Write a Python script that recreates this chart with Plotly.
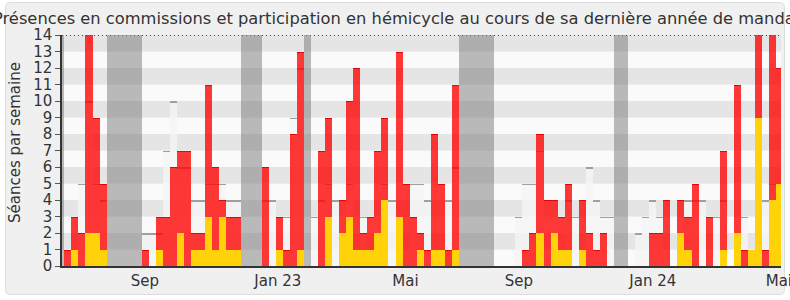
import plotly.graph_objects as go

# ---- data (one value per week) ----
seances_total = [1, 3, 2, 14, 9, 5, 0, 0, 0, 0, 0, 1, 0, 3, 3, 6, 7, 7, 2, 2,
                 11, 6, 4, 3, 3, 0, 0, 0, 6, 0, 3, 1, 8, 13, 0, 0, 7, 9, 0, 4,
                 10, 12, 2, 3, 7, 9, 0, 13, 5, 3, 2, 1, 8, 5, 1, 11, 0, 0, 0, 0,
                 0, 0, 0, 0, 0, 1, 2, 8, 4, 4, 3, 5, 0, 4, 2, 1, 2, 0, 0, 0,
                 0, 0, 0, 2, 2, 4, 0, 4, 3, 5, 0, 3, 0, 7, 0, 11, 1, 1, 14, 1,
                 14, 12]
seances_commission = [0, 1, 0, 2, 2, 1, 0, 0, 0, 0, 0, 0, 0, 1, 0, 0, 2, 0, 1, 1,
                      3, 1, 3, 1, 1, 0, 0, 0, 0, 0, 1, 0, 0, 1, 0, 0, 0, 3, 0, 2,
                      3, 1, 1, 1, 2, 4, 0, 3, 0, 0, 1, 0, 1, 1, 0, 1, 0, 0, 0, 0,
                      0, 0, 0, 0, 0, 0, 0, 2, 0, 2, 1, 1, 0, 1, 0, 0, 0, 0, 0, 0,
                      0, 0, 0, 0, 0, 0, 0, 2, 1, 0, 0, 0, 0, 1, 0, 2, 0, 1, 9, 0,
                      4, 5]
mediane = [0, 0, 5, 10, 5, 4, 0, 0, 0, 0, 0, 2, 2, 2, 7, 10, 6, 6, 4, 4,
           5, 5, 5, 4, 4, 0, 0, 0, 4, 4, 3, 3, 9, 12, 0, 3, 4, 5, 4, 0,
           5, 0, 3, 0, 2, 5, 4, 0, 0, 5, 5, 4, 0, 0, 4, 6, 0, 0, 0, 0,
           0, 0, 0, 0, 3, 5, 5, 7, 0, 0, 0, 4, 3, 0, 6, 4, 3, 3, 0, 0,
           0, 2, 3, 4, 3, 0, 0, 0, 4, 4, 4, 0, 3, 4, 0, 0, 3, 0, 0, 4,
           5, 0]
vacances = [-1, 6, 7, 8, 9, 10, 25, 26, 27, 34, 56, 57, 58, 59, 60, 78, 79]
tick_pos = [11.42, 30.3, 48.4, 64.5, 83.5, 101.4]
tick_text = ["Sep", "Jan 23", "Mai", "Sep", "Jan 24", "Mai"]
y_max = 14

weeks = list(range(len(seances_total)))
xc = [w + 0.5 for w in weeks]

# plot area in pixels
W, H = 790, 300
L, R, T, B = 62, 781, 35, 266
pw, ph = R - L, B - T

def px(x):
    return (x - L) / pw

def py(y):
    return (B - y) / ph

FONT = "DejaVu Sans"
fig = go.Figure()

# vacation columns
fig.add_trace(go.Bar(x=[v + 0.5 for v in vacances], y=[y_max] * len(vacances), width=1,
                     marker=dict(color="rgba(120,120,120,0.5)", line=dict(width=0)),
                     hoverinfo="skip", showlegend=False))
# median (light) bars
fig.add_trace(go.Bar(x=xc, y=mediane, width=1,
                     marker=dict(color="rgba(245,245,245,0.8)", line=dict(width=0)),
                     hoverinfo="skip", showlegend=False))
# top line of median bars
med_x = [x for x, m in zip(xc, mediane) if m > 0]
med_v = [m for m in mediane if m > 0]
fig.add_trace(go.Bar(x=med_x, y=[0.1] * len(med_v), base=[m - 0.1 for m in med_v], width=1,
                     marker=dict(color="rgba(150,150,150,0.9)", line=dict(width=0)),
                     hoverinfo="skip", showlegend=False))
# total (red)
fig.add_trace(go.Bar(x=xc, y=seances_total, width=1,
                     marker=dict(color="rgba(255,0,0,0.78)", line=dict(width=0)),
                     showlegend=False))
red_x = [x for x, r in zip(xc, seances_total) if 0 < r < y_max]
red_v = [r for r in seances_total if 0 < r < y_max]
fig.add_trace(go.Bar(x=red_x, y=[0.07] * len(red_v), base=[r - 0.07 for r in red_v], width=1,
                     marker=dict(color="rgba(225,0,0,0.9)", line=dict(width=0)),
                     hoverinfo="skip", showlegend=False))
# commission (yellow)
fig.add_trace(go.Bar(x=xc, y=seances_commission, width=1,
                     marker=dict(color="#ffd20a", line=dict(width=0)),
                     showlegend=False))

shapes = []
# outer rounded frame
x0, x1, y0, y1, r = 5.5, 784.5, 2.5, 294.5, 5
path = (f"M {px(x0 + r)},{py(y0)} L {px(x1 - r)},{py(y0)} Q {px(x1)},{py(y0)} {px(x1)},{py(y0 + r)} "
        f"L {px(x1)},{py(y1 - r)} Q {px(x1)},{py(y1)} {px(x1 - r)},{py(y1)} "
        f"L {px(x0 + r)},{py(y1)} Q {px(x0)},{py(y1)} {px(x0)},{py(y1 - r)} "
        f"L {px(x0)},{py(y0 + r)} Q {px(x0)},{py(y0)} {px(x0 + r)},{py(y0)} Z")
shapes.append(dict(type="path", path=path, xref="paper", yref="paper", layer="below",
                   fillcolor="#f0f0f0", line=dict(color="#dcdcdc", width=1)))
# horizontal bands
for k in range(y_max):
    shapes.append(dict(type="rect", xref="paper", yref="y", x0=0, x1=1, y0=k, y1=k + 1,
                       layer="below", line=dict(width=0),
                       fillcolor="#e5e5e5" if k % 2 == 1 else "#fafafa"))
# dotted top line
shapes.append(dict(type="line", xref="paper", yref="y", x0=0, x1=1, y0=y_max, y1=y_max,
                   layer="below", line=dict(color="#111", width=1.3, dash="1px,3px")))

fig.update_layout(
    width=W, height=H,
    margin=dict(l=L, r=W - R, t=T, b=H - B, autoexpand=False),
    paper_bgcolor="white", plot_bgcolor="rgba(0,0,0,0)",
    barmode="overlay", bargap=0,
    shapes=shapes,
    font=dict(family=FONT, size=15, color="#333"),
    xaxis=dict(range=[-0.33, 101.7], showgrid=False, zeroline=False,
               tickmode="array", tickvals=tick_pos, ticktext=tick_text,
               ticks="", showline=True, linecolor="#333", linewidth=1.5,
               ticklabeloverflow="allow", automargin=False,
               tickfont=dict(family=FONT, size=15, color="#333")),
    yaxis=dict(range=[0, y_max], showgrid=False, zeroline=False,
               tickmode="linear", tick0=0, dtick=1, automargin=False,
               ticks="outside", ticklen=5, tickcolor="#555", tickwidth=1,
               showline=True, linecolor="#333", linewidth=1.5,
               tickfont=dict(family=FONT, size=15, color="#333")),
    annotations=[
        dict(text="Présences en commissions et participation en hémicycle au cours de sa dernière année de mandat",
             xref="paper", yref="paper", x=px(397), y=py(19), xanchor="center", yanchor="middle",
             showarrow=False, font=dict(family=FONT, size=16.3, color="#333")),
        dict(text="Séances par semaine", xref="paper", yref="paper", x=px(15), y=py(143),
             xanchor="center", yanchor="middle", textangle=-90, showarrow=False,
             font=dict(family=FONT, size=15, color="#333")),
    ],
)

fig.write_html("out.html")
